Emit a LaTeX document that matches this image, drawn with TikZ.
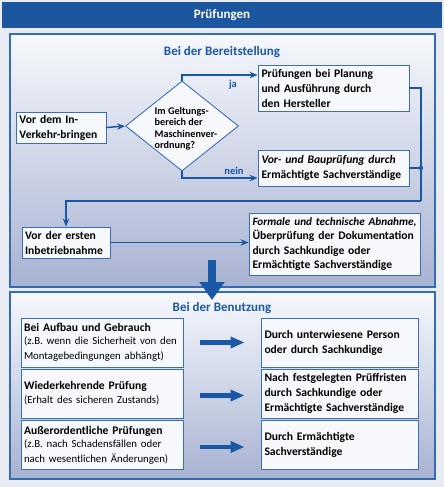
\documentclass[tikz,border=0pt]{standalone}
\usepackage{fontspec}
\setmainfont{Carlito}
\usetikzlibrary{arrows.meta,shapes.geometric,calc}
\definecolor{bgcol}{RGB}{232,235,241}
\definecolor{titleblue}{RGB}{27,86,158}
\definecolor{headblue}{RGB}{27,88,165}
\definecolor{panborder}{RGB}{52,108,178}
\definecolor{pantop}{RGB}{246,248,252}
\definecolor{panbot}{RGB}{168,179,210}
\definecolor{boxfill}{RGB}{246,248,252}
\definecolor{boxline}{RGB}{58,112,182}
\definecolor{arrblue}{RGB}{26,88,166}
\tikzset{
  panel/.style={draw=panborder, line width=1.5pt, top color=pantop, bottom color=panbot},
  heading/.style={font=\bfseries\fontsize{13}{15}\selectfont, text=headblue, inner sep=0pt},
  box/.style={draw=boxline, line width=0.9pt, fill=boxfill, inner xsep=3.5pt, inner ysep=0pt,
    align=left, text=black, font=\bfseries\fontsize{11.6}{15}\selectfont},
  thinarrow/.style={draw=arrblue, line width=1.5pt, -{Stealth[length=8pt,width=6.5pt]}},
  thinline/.style={draw=arrblue, line width=1.5pt},
  fatarrow/.style={draw=arrblue, line width=4.5pt, -{Triangle[length=14pt,width=11pt]}},
  lbl/.style={font=\bfseries\fontsize{10.5}{12}\selectfont, text=arrblue, inner sep=0pt},
}
\begin{document}
\begin{tikzpicture}[x=1pt,y=-1pt]
\useasboundingbox (0,0) rectangle (444,487);
\fill[bgcol] (0,0) rectangle (444,487);
% title
\fill[titleblue] (2,2) rectangle (442,28);
\node[font=\bfseries\fontsize{13}{15}\selectfont, text=white, inner sep=0pt] (title) at (222,15) {Prüfungen};
% panels
\path[panel] (10,34) rectangle (435,287);
\path[panel] (10,292) rectangle (435,479);
\node[heading] (h1) at (222,52) {Bei der Bereitstellung};
\node[heading] (h2) at (222,308) {Bei der Benutzung};

% upper panel boxes
\node[box, minimum width=151pt, text width=144pt, minimum height=46pt] (b1) at (333.5,88)
  {Prüfungen bei Planung\\und Ausführung durch\\den Hersteller};
\node[box, minimum width=151pt, text width=144pt, minimum height=36pt] (b2) at (333.5,168)
  {\textit{Vor- und Bauprüfung durch}\\Ermächtigte Sachverständige};
\node[box, minimum width=90pt, text width=83pt, minimum height=31pt] (vor) at (61,127.5)
  {Vor dem In-\\Verkehr-bringen};
\node[draw=boxline, line width=0.9pt, fill=boxfill, diamond, minimum width=113pt, minimum height=90pt, inner sep=0pt] (dia) at (182,126) {};
\node[align=left, inner sep=0pt, font=\bfseries\fontsize{10.2}{11.5}\selectfont] (diatext) at (186,129)
  {Im Geltungs-\\bereich der\\Maschinenver-\\ordnung?};
\node[box, minimum width=88pt, text width=82pt, inner xsep=3pt, minimum height=31pt] (vde) at (66,242.5)
  {Vor der ersten\\Inbetriebnahme};
\node[box, minimum width=171pt, text width=164pt, minimum height=62pt, font=\bfseries\fontsize{11.6}{14.5}\selectfont] (form) at (334.5,244)
  {\mbox{\fontsize{11.2}{14.5}\selectfont\textit{Formale und technische Abnahme,}}\\Überprüfung der Dokumentation\\durch Sachkundige oder\\Ermächtigte Sachverständige};

% connectors upper
\draw[thinarrow] (vor.east) -- (dia.west);
\coordinate (ja) at (182,75);
\coordinate (nein) at (182,178);
\draw[thinarrow] (dia.north) |- (ja -| b1.west);
\draw[thinarrow] (dia.south) |- (nein -| b2.west);
\node[lbl] (jal) at (233,85) {ja};
\node[lbl] (neinl) at (234,171) {nein};
\coordinate (rc) at (421,201);
\draw[thinline] (b1.east) -| (rc);
\draw[thinarrow] (rc) -| (vde.north);
\coordinate (dot) at (b2.east -| rc);
\draw[thinline] (b2.east) -- (dot);
\fill[arrblue] (dot) circle (2.2pt);
\draw[thinarrow] (vde.east) -- (vde.east -| form.west);

% big down arrow
\coordinate (bs) at (212,260);
\coordinate (be) at (212,300);
\draw[draw=arrblue, line width=8pt, -{Triangle[length=18pt,width=24pt]}] (bs) -- (be);

% lower panel boxes
\tikzset{lbox/.style={box, minimum width=162pt, text width=156pt, inner xsep=3pt, minimum height=49pt},
         rbox/.style={box, minimum width=157pt, text width=150pt, minimum height=49pt}}
\newcommand{\regtext}[1]{{\mdseries\fontsize{10.8}{14}\selectfont #1}}
\node[lbox] (l1) at (102,342.5) {Bei Aufbau und Gebrauch\\[-1pt]\regtext{(z.B. wenn die Sicherheit von den\\Montagebedingungen abhängt)}};
\node[lbox] (l2) at (102,393.5) {Wiederkehrende Prüfung\\[-1pt]\regtext{(Erhalt des sicheren Zustands)}};
\node[lbox] (l3) at (102,445) {Außerordentliche Prüfungen\\[-1pt]\regtext{(z.B. nach Schadensfällen oder\\nach wesentlichen Änderungen)}};
\node[rbox] (r1) at (339.5,342.5) {Durch unterwiesene Person\\oder durch Sachkundige};
\node[rbox] (r2) at (339.5,393.5) {Nach festgelegten Prüffristen\\durch Sachkundige oder\\Ermächtigte Sachverständige};
\node[rbox] (r3) at (339.5,445) {Durch Ermächtigte\\Sachverständige};
\draw[fatarrow, shorten <=17pt, shorten >=16pt] (l1.east) -- (l1.east -| r1.west);
\draw[fatarrow, shorten <=17pt, shorten >=16pt] ([yshift=-2pt]l2.east) -- ([yshift=-2pt]l2.east -| r2.west);
\draw[fatarrow, shorten <=17pt, shorten >=16pt] ([yshift=-2pt]l3.east) -- ([yshift=-2pt]l3.east -| r3.west);
\end{tikzpicture}
\end{document}
